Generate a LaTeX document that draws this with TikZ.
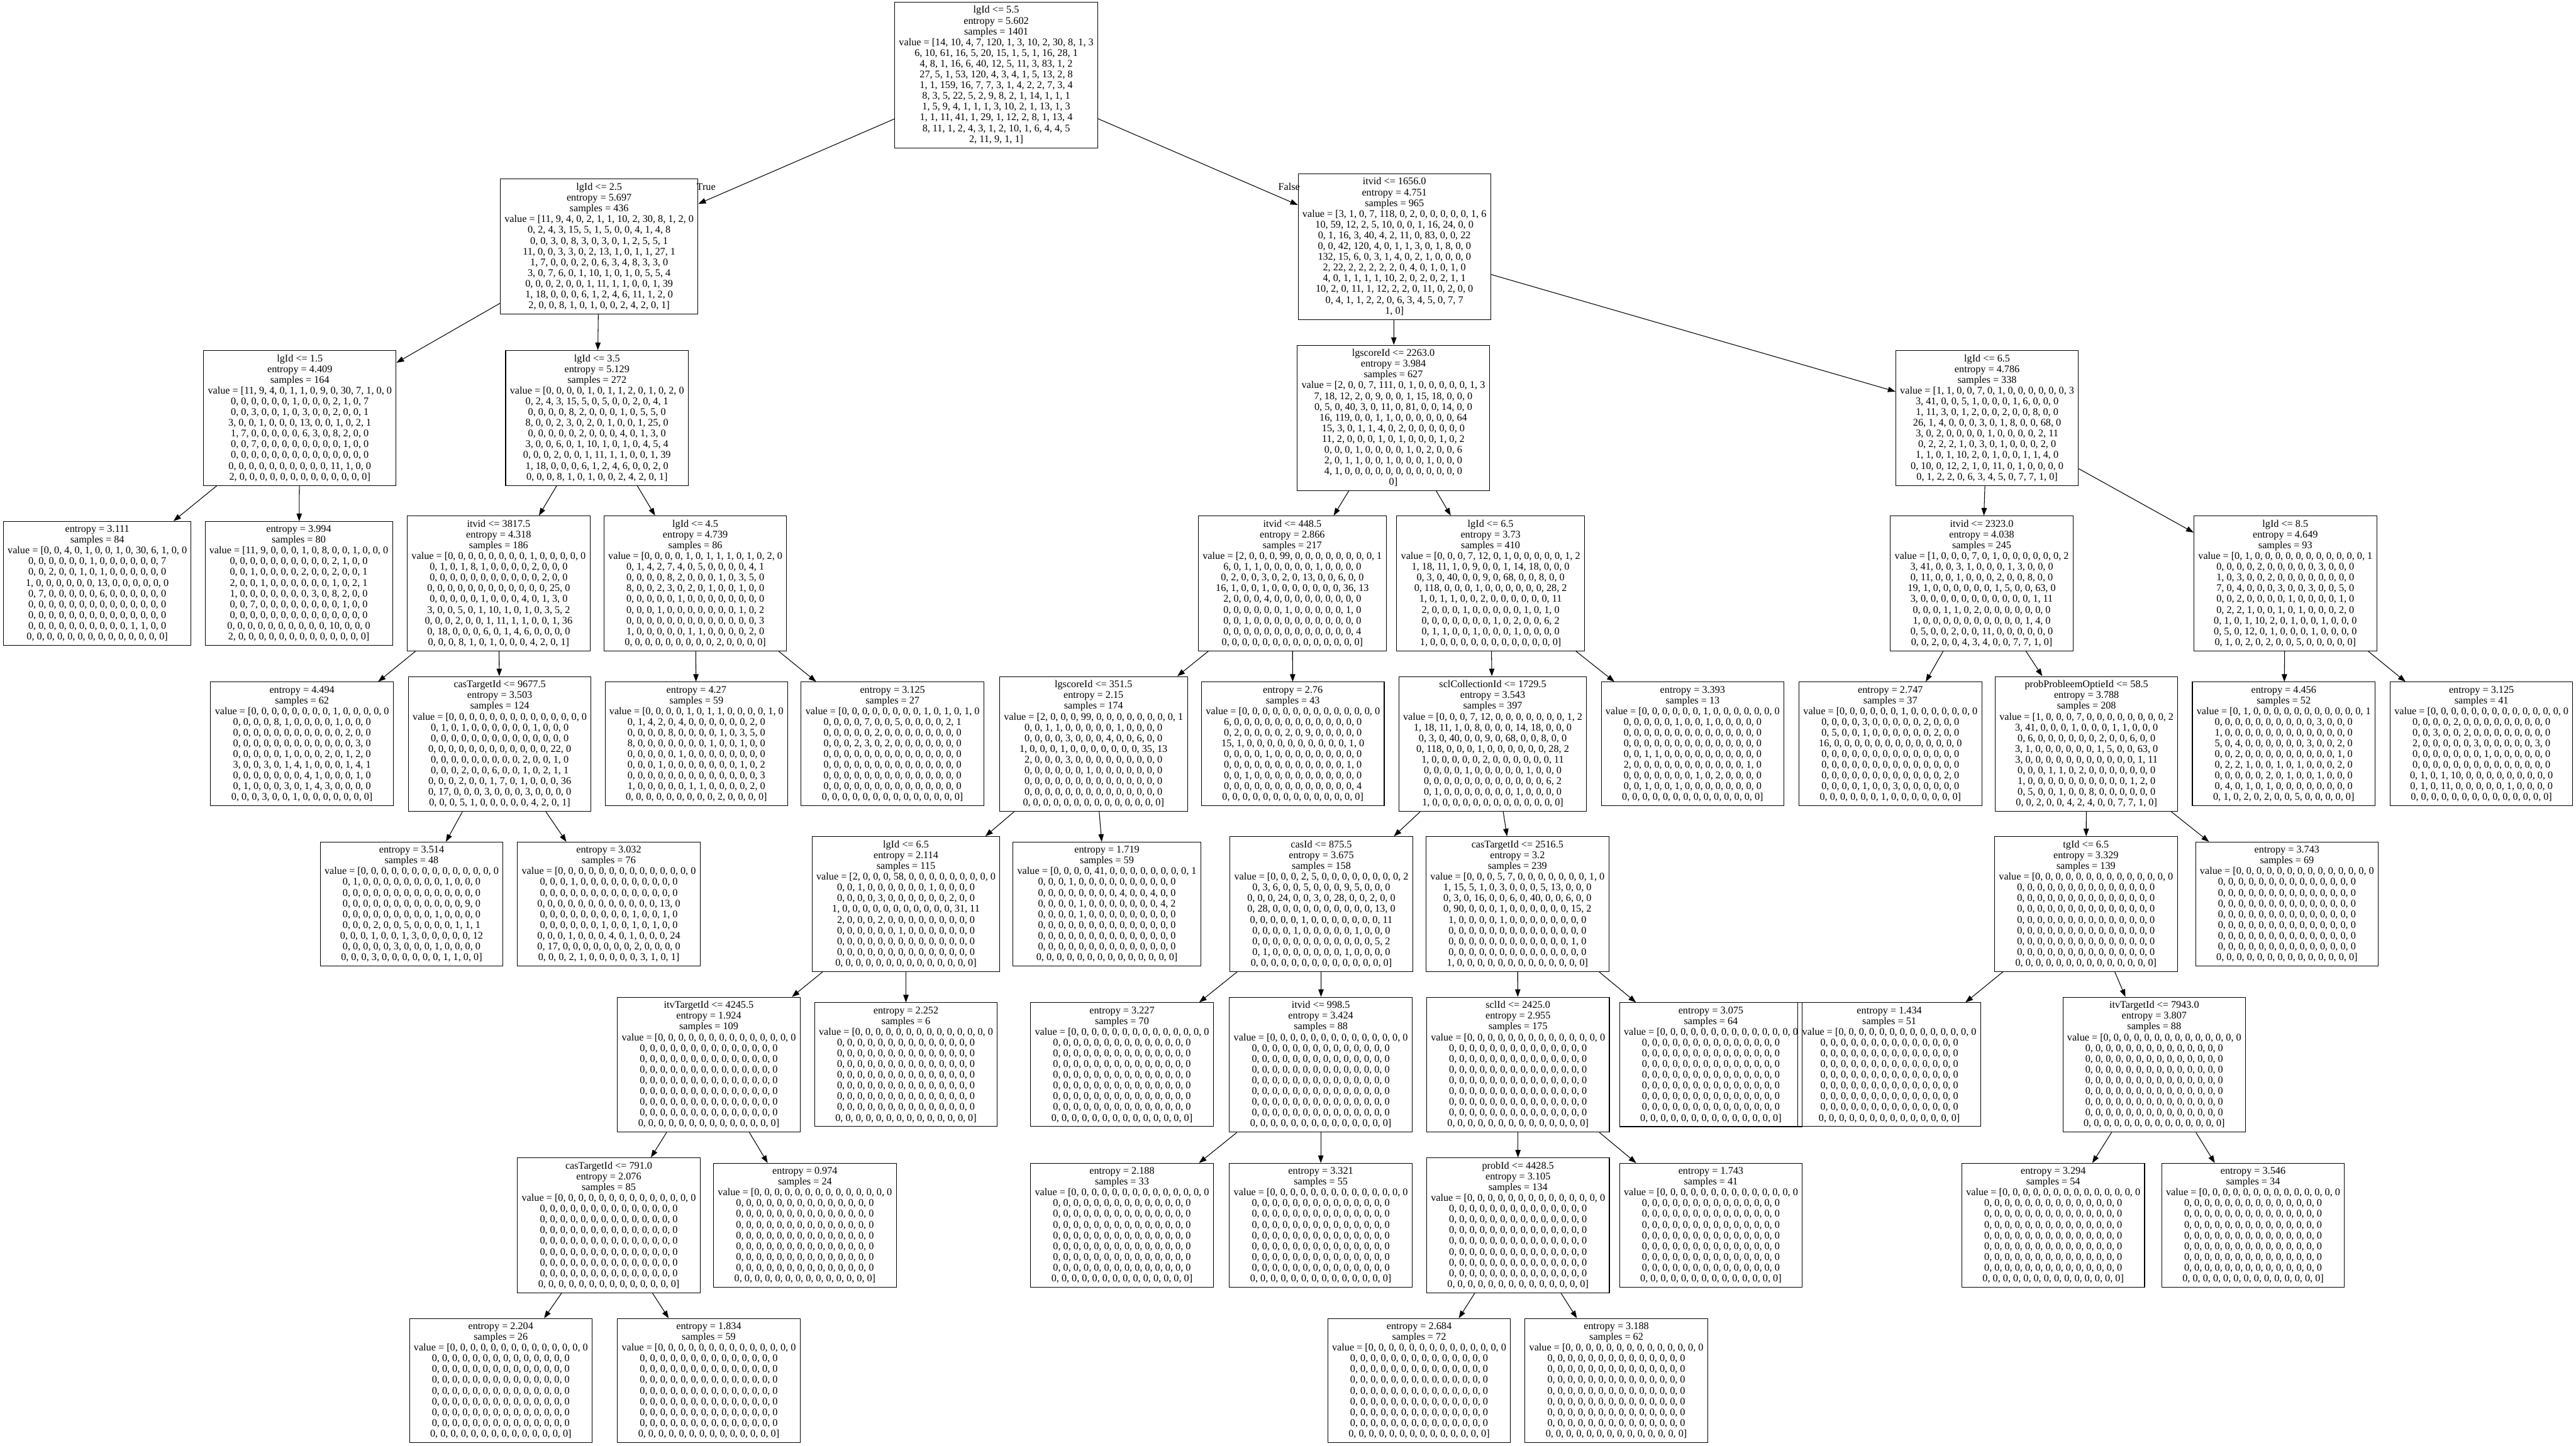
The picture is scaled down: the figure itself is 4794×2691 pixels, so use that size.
\documentclass[tikz,border=0pt]{standalone}
\usepackage{fontspec}
\setmainfont{Liberation Serif}
\usetikzlibrary{arrows.meta}

\newcommand{\zl}{0, 0, 0, 0, 0, 0, 0, 0, 0, 0, 0, 0, 0, 0}

\begin{document}
\begin{tikzpicture}[x=0.01cm, y=-0.01cm,
    split/.style={draw, line width=0.35pt, align=center, inner xsep=0.08cm, inner ysep=0.075cm,
      font=\fontsize{5.4}{5.69}\selectfont},
    edge/.style={line width=0.35pt, -{Triangle[length=0.14cm, width=0.1cm]}},
    lab/.style={font=\fontsize{5.4}{5.69}\selectfont}]
\useasboundingbox (0,0) rectangle (4794,2691);

% rank 1
\node[split] (n0) at (1854,139.5) {lgId <= 5.5\\entropy = 5.602\\samples = 1401\\value = [14, 10, 4, 7, 120, 1, 3, 10, 2, 30, 8, 1, 3\\6, 10, 61, 16, 5, 20, 15, 1, 5, 1, 16, 28, 1\\4, 8, 1, 16, 6, 40, 12, 5, 11, 3, 83, 1, 2\\27, 5, 1, 53, 120, 4, 3, 4, 1, 5, 13, 2, 8\\1, 1, 159, 16, 7, 7, 3, 1, 4, 2, 2, 7, 3, 4\\8, 3, 5, 22, 5, 2, 9, 8, 2, 1, 14, 1, 1, 1\\1, 5, 9, 4, 1, 1, 1, 3, 10, 2, 1, 13, 1, 3\\1, 1, 11, 41, 1, 29, 1, 12, 2, 8, 1, 13, 4\\8, 11, 1, 2, 4, 3, 1, 2, 10, 1, 6, 4, 4, 5\\2, 11, 9, 1, 1]};

% rank 2
\node[split] (n1) at (1115,459) {lgId <= 2.5\\entropy = 5.697\\samples = 436\\value = [11, 9, 4, 0, 2, 1, 1, 10, 2, 30, 8, 1, 2, 0\\0, 2, 4, 3, 15, 5, 1, 5, 0, 0, 4, 1, 4, 8\\0, 0, 3, 0, 8, 3, 0, 3, 0, 1, 2, 5, 5, 1\\11, 0, 0, 3, 3, 0, 2, 13, 1, 0, 1, 1, 27, 1\\1, 7, 0, 0, 0, 2, 0, 6, 3, 4, 8, 3, 3, 0\\3, 0, 7, 6, 0, 1, 10, 1, 0, 1, 0, 5, 5, 4\\0, 0, 0, 2, 0, 0, 1, 11, 1, 1, 0, 0, 1, 39\\1, 18, 0, 0, 0, 6, 1, 2, 4, 6, 11, 1, 2, 0\\2, 0, 0, 8, 1, 0, 1, 0, 0, 2, 4, 2, 0, 1]};
\node[split] (n14) at (2595,459) {itvid <= 1656.0\\entropy = 4.751\\samples = 965\\value = [3, 1, 0, 7, 118, 0, 2, 0, 0, 0, 0, 0, 1, 6\\10, 59, 12, 2, 5, 10, 0, 0, 1, 16, 24, 0, 0\\0, 1, 16, 3, 40, 4, 2, 11, 0, 83, 0, 0, 22\\0, 0, 42, 120, 4, 0, 1, 1, 3, 0, 1, 8, 0, 0\\132, 15, 6, 0, 3, 1, 4, 0, 2, 1, 0, 0, 0, 0\\2, 22, 2, 2, 2, 2, 2, 0, 4, 0, 1, 0, 1, 0\\4, 0, 1, 1, 1, 1, 10, 2, 0, 2, 0, 2, 1, 1\\10, 2, 0, 11, 1, 12, 2, 2, 0, 11, 0, 2, 0, 0\\0, 4, 1, 1, 2, 2, 0, 6, 3, 4, 5, 0, 7, 7\\1, 0]};

% rank 3
\node[split] (n2) at (558,778) {lgId <= 1.5\\entropy = 4.409\\samples = 164\\value = [11, 9, 4, 0, 1, 1, 0, 9, 0, 30, 7, 1, 0, 0\\0, 0, 0, 0, 0, 0, 1, 0, 0, 0, 2, 1, 0, 7\\0, 0, 3, 0, 0, 1, 0, 3, 0, 0, 2, 0, 0, 1\\3, 0, 0, 1, 0, 0, 0, 13, 0, 0, 1, 0, 2, 1\\1, 7, 0, 0, 0, 0, 0, 6, 3, 0, 8, 2, 0, 0\\0, 0, 7, 0, 0, 0, 0, 0, 0, 0, 0, 1, 0, 0\\0, 0, 0, 0, 0, 0, 0, 0, 0, 0, 0, 0, 0, 0\\0, 0, 0, 0, 0, 0, 0, 0, 0, 0, 11, 1, 0, 0\\2, 0, 0, 0, 0, 0, 0, 0, 0, 0, 0, 0, 0, 0]};
\node[split] (n5) at (1111,778) {lgId <= 3.5\\entropy = 5.129\\samples = 272\\value = [0, 0, 0, 0, 1, 0, 1, 1, 2, 0, 1, 0, 2, 0\\0, 2, 4, 3, 15, 5, 0, 5, 0, 0, 2, 0, 4, 1\\0, 0, 0, 0, 8, 2, 0, 0, 0, 1, 0, 5, 5, 0\\8, 0, 0, 2, 3, 0, 2, 0, 1, 0, 0, 1, 25, 0\\0, 0, 0, 0, 0, 2, 0, 0, 0, 4, 0, 1, 3, 0\\3, 0, 0, 6, 0, 1, 10, 1, 0, 1, 0, 4, 5, 4\\0, 0, 0, 2, 0, 0, 1, 11, 1, 1, 0, 0, 1, 39\\1, 18, 0, 0, 0, 6, 1, 2, 4, 6, 0, 0, 2, 0\\0, 0, 0, 8, 1, 0, 1, 0, 0, 2, 4, 2, 0, 1]};
\node[split] (n15) at (2593,778) {lgscoreId <= 2263.0\\entropy = 3.984\\samples = 627\\value = [2, 0, 0, 7, 111, 0, 1, 0, 0, 0, 0, 0, 1, 3\\7, 18, 12, 2, 0, 9, 0, 0, 1, 15, 18, 0, 0, 0\\0, 5, 0, 40, 3, 0, 11, 0, 81, 0, 0, 14, 0, 0\\16, 119, 0, 0, 1, 1, 0, 0, 0, 0, 0, 0, 64\\15, 3, 0, 1, 1, 4, 0, 2, 0, 0, 0, 0, 0, 0\\11, 2, 0, 0, 0, 1, 0, 1, 0, 0, 0, 1, 0, 2\\0, 0, 0, 1, 0, 0, 0, 0, 1, 0, 2, 0, 0, 6\\2, 0, 1, 1, 0, 0, 1, 0, 0, 0, 1, 0, 0, 0\\4, 1, 0, 0, 0, 0, 0, 0, 0, 0, 0, 0, 0, 0\\0]};
\node[split] (n42) at (3698,778) {lgId <= 6.5\\entropy = 4.786\\samples = 338\\value = [1, 1, 0, 0, 7, 0, 1, 0, 0, 0, 0, 0, 0, 3\\3, 41, 0, 0, 5, 1, 0, 0, 0, 1, 6, 0, 0, 0\\1, 11, 3, 0, 1, 2, 0, 0, 2, 0, 0, 8, 0, 0\\26, 1, 4, 0, 0, 0, 3, 0, 1, 8, 0, 0, 68, 0\\3, 0, 2, 0, 0, 0, 0, 1, 0, 0, 0, 0, 2, 11\\0, 2, 2, 2, 1, 0, 3, 0, 1, 0, 0, 0, 2, 0\\1, 1, 0, 1, 10, 2, 0, 1, 0, 0, 1, 1, 4, 0\\0, 10, 0, 12, 2, 1, 0, 11, 0, 1, 0, 0, 0, 0\\0, 1, 2, 2, 0, 6, 3, 4, 5, 0, 7, 7, 1, 0]};

% rank 4
\node[split] (n3) at (181,1086) {entropy = 3.111\\samples = 84\\value = [0, 0, 4, 0, 1, 0, 0, 1, 0, 30, 6, 1, 0, 0\\0, 0, 0, 0, 0, 0, 1, 0, 0, 0, 0, 0, 0, 7\\0, 0, 2, 0, 0, 1, 0, 1, 0, 0, 0, 0, 0, 0\\1, 0, 0, 0, 0, 0, 0, 13, 0, 0, 0, 0, 0, 0\\0, 7, 0, 0, 0, 0, 0, 6, 0, 0, 0, 0, 0, 0\\\zl\\\zl\\0, 0, 0, 0, 0, 0, 0, 0, 0, 0, 1, 1, 0, 0\\\zl]};
\node[split] (n4) at (556,1086) {entropy = 3.994\\samples = 80\\value = [11, 9, 0, 0, 0, 1, 0, 8, 0, 0, 1, 0, 0, 0\\0, 0, 0, 0, 0, 0, 0, 0, 0, 0, 2, 1, 0, 0\\0, 0, 1, 0, 0, 0, 0, 2, 0, 0, 2, 0, 0, 1\\2, 0, 0, 1, 0, 0, 0, 0, 0, 0, 1, 0, 2, 1\\1, 0, 0, 0, 0, 0, 0, 0, 3, 0, 8, 2, 0, 0\\0, 0, 7, 0, 0, 0, 0, 0, 0, 0, 0, 1, 0, 0\\\zl\\0, 0, 0, 0, 0, 0, 0, 0, 0, 0, 10, 0, 0, 0\\2, 0, 0, 0, 0, 0, 0, 0, 0, 0, 0, 0, 0, 0]};
\node[split] (n6) at (928,1086) {itvid <= 3817.5\\entropy = 4.318\\samples = 186\\value = [0, 0, 0, 0, 0, 0, 0, 0, 1, 0, 0, 0, 0, 0\\0, 1, 0, 1, 8, 1, 0, 0, 0, 0, 2, 0, 0, 0\\0, 0, 0, 0, 0, 0, 0, 0, 0, 0, 0, 2, 0, 0\\0, 0, 0, 0, 0, 0, 0, 0, 0, 0, 0, 0, 25, 0\\0, 0, 0, 0, 0, 1, 0, 0, 0, 4, 0, 1, 3, 0\\3, 0, 0, 5, 0, 1, 10, 1, 0, 1, 0, 3, 5, 2\\0, 0, 0, 2, 0, 0, 1, 11, 1, 1, 0, 0, 1, 36\\0, 18, 0, 0, 0, 6, 0, 1, 4, 6, 0, 0, 0, 0\\0, 0, 0, 8, 1, 0, 1, 0, 0, 0, 4, 2, 0, 1]};
\node[split] (n11) at (1294,1086) {lgId <= 4.5\\entropy = 4.739\\samples = 86\\value = [0, 0, 0, 0, 1, 0, 1, 1, 1, 0, 1, 0, 2, 0\\0, 1, 4, 2, 7, 4, 0, 5, 0, 0, 0, 0, 4, 1\\0, 0, 0, 0, 8, 2, 0, 0, 0, 1, 0, 3, 5, 0\\8, 0, 0, 2, 3, 0, 2, 0, 1, 0, 0, 1, 0, 0\\0, 0, 0, 0, 0, 1, 0, 0, 0, 0, 0, 0, 0, 0\\0, 0, 0, 1, 0, 0, 0, 0, 0, 0, 0, 1, 0, 2\\0, 0, 0, 0, 0, 0, 0, 0, 0, 0, 0, 0, 0, 3\\1, 0, 0, 0, 0, 0, 1, 1, 0, 0, 0, 0, 2, 0\\0, 0, 0, 0, 0, 0, 0, 0, 0, 2, 0, 0, 0, 0]};
\node[split] (n16) at (2405,1086) {itvid <= 448.5\\entropy = 2.866\\samples = 217\\value = [2, 0, 0, 0, 99, 0, 0, 0, 0, 0, 0, 0, 0, 1\\6, 0, 1, 1, 0, 0, 0, 0, 0, 1, 0, 0, 0, 0\\0, 2, 0, 0, 3, 0, 2, 0, 13, 0, 0, 6, 0, 0\\16, 1, 0, 0, 1, 0, 0, 0, 0, 0, 0, 0, 36, 13\\2, 0, 0, 0, 4, 0, 0, 0, 0, 0, 0, 0, 0, 0\\0, 0, 0, 0, 0, 0, 1, 0, 0, 0, 0, 0, 1, 0\\0, 0, 1, 0, 0, 0, 0, 0, 0, 0, 0, 0, 0, 0\\0, 0, 0, 0, 0, 0, 0, 0, 0, 0, 0, 0, 0, 4\\\zl]};
\node[split] (n27) at (2774,1086) {lgId <= 6.5\\entropy = 3.73\\samples = 410\\value = [0, 0, 0, 7, 12, 0, 1, 0, 0, 0, 0, 0, 1, 2\\1, 18, 11, 1, 0, 9, 0, 0, 1, 14, 18, 0, 0, 0\\0, 3, 0, 40, 0, 0, 9, 0, 68, 0, 0, 8, 0, 0\\0, 118, 0, 0, 0, 1, 0, 0, 0, 0, 0, 0, 28, 2\\1, 0, 1, 1, 0, 0, 2, 0, 0, 0, 0, 0, 0, 11\\2, 0, 0, 0, 1, 0, 0, 0, 0, 0, 1, 0, 1, 0\\0, 0, 0, 0, 0, 0, 0, 1, 0, 2, 0, 0, 6, 2\\0, 1, 1, 0, 0, 1, 0, 0, 0, 1, 0, 0, 0, 0\\1, 0, 0, 0, 0, 0, 0, 0, 0, 0, 0, 0, 0, 0]};
\node[split] (n43) at (3688,1086) {itvid <= 2323.0\\entropy = 4.038\\samples = 245\\value = [1, 0, 0, 0, 7, 0, 1, 0, 0, 0, 0, 0, 0, 2\\3, 41, 0, 0, 3, 1, 0, 0, 0, 1, 3, 0, 0, 0\\0, 11, 0, 0, 1, 0, 0, 0, 2, 0, 0, 8, 0, 0\\19, 1, 0, 0, 0, 0, 0, 0, 1, 5, 0, 0, 63, 0\\3, 0, 0, 0, 0, 0, 0, 0, 0, 0, 0, 0, 1, 11\\0, 0, 0, 1, 1, 0, 2, 0, 0, 0, 0, 0, 0, 0\\1, 0, 0, 0, 0, 0, 0, 0, 0, 0, 0, 1, 4, 0\\0, 5, 0, 0, 2, 0, 0, 11, 0, 0, 0, 0, 0, 0\\0, 0, 2, 0, 0, 4, 3, 4, 0, 0, 7, 7, 1, 0]};
\node[split] (n52) at (4253,1086) {lgId <= 8.5\\entropy = 4.649\\samples = 93\\value = [0, 1, 0, 0, 0, 0, 0, 0, 0, 0, 0, 0, 0, 1\\0, 0, 0, 0, 2, 0, 0, 0, 0, 0, 3, 0, 0, 0\\1, 0, 3, 0, 0, 2, 0, 0, 0, 0, 0, 0, 0, 0\\7, 0, 4, 0, 0, 0, 3, 0, 0, 3, 0, 0, 5, 0\\0, 0, 2, 0, 0, 0, 0, 1, 0, 0, 0, 0, 1, 0\\0, 2, 2, 1, 0, 0, 1, 0, 1, 0, 0, 0, 2, 0\\0, 1, 0, 1, 10, 2, 0, 1, 0, 0, 1, 0, 0, 0\\0, 5, 0, 12, 0, 1, 0, 0, 0, 1, 0, 0, 0, 0\\0, 1, 0, 2, 0, 2, 0, 0, 5, 0, 0, 0, 0, 0]};

% rank 5
\node[split] (n7) at (562,1385) {entropy = 4.494\\samples = 62\\value = [0, 0, 0, 0, 0, 0, 0, 0, 1, 0, 0, 0, 0, 0\\0, 0, 0, 0, 8, 1, 0, 0, 0, 0, 1, 0, 0, 0\\0, 0, 0, 0, 0, 0, 0, 0, 0, 0, 0, 2, 0, 0\\0, 0, 0, 0, 0, 0, 0, 0, 0, 0, 0, 0, 3, 0\\0, 0, 0, 0, 0, 1, 0, 0, 0, 2, 0, 1, 2, 0\\3, 0, 0, 3, 0, 1, 4, 1, 0, 0, 0, 1, 4, 1\\0, 0, 0, 0, 0, 0, 0, 4, 1, 0, 0, 0, 1, 0\\0, 1, 0, 0, 0, 3, 0, 1, 4, 3, 0, 0, 0, 0\\0, 0, 0, 3, 0, 0, 1, 0, 0, 0, 0, 0, 0, 0]};
\node[split] (n8) at (930,1385) {casTargetId <= 9677.5\\entropy = 3.503\\samples = 124\\value = [0, 0, 0, 0, 0, 0, 0, 0, 0, 0, 0, 0, 0, 0\\0, 1, 0, 1, 0, 0, 0, 0, 0, 0, 1, 0, 0, 0\\\zl\\0, 0, 0, 0, 0, 0, 0, 0, 0, 0, 0, 0, 22, 0\\0, 0, 0, 0, 0, 0, 0, 0, 0, 2, 0, 0, 1, 0\\0, 0, 0, 2, 0, 0, 6, 0, 0, 1, 0, 2, 1, 1\\0, 0, 0, 2, 0, 0, 1, 7, 0, 1, 0, 0, 0, 36\\0, 17, 0, 0, 0, 3, 0, 0, 0, 3, 0, 0, 0, 0\\0, 0, 0, 5, 1, 0, 0, 0, 0, 0, 4, 2, 0, 1]};
\node[split] (n12) at (1296,1385) {entropy = 4.27\\samples = 59\\value = [0, 0, 0, 0, 1, 0, 1, 1, 0, 0, 0, 0, 1, 0\\0, 1, 4, 2, 0, 4, 0, 0, 0, 0, 0, 0, 2, 0\\0, 0, 0, 0, 8, 0, 0, 0, 0, 1, 0, 3, 5, 0\\8, 0, 0, 0, 0, 0, 0, 0, 1, 0, 0, 1, 0, 0\\0, 0, 0, 0, 0, 1, 0, 0, 0, 0, 0, 0, 0, 0\\0, 0, 0, 1, 0, 0, 0, 0, 0, 0, 0, 1, 0, 2\\0, 0, 0, 0, 0, 0, 0, 0, 0, 0, 0, 0, 0, 3\\1, 0, 0, 0, 0, 0, 1, 1, 0, 0, 0, 0, 2, 0\\0, 0, 0, 0, 0, 0, 0, 0, 0, 2, 0, 0, 0, 0]};
\node[split] (n13) at (1661,1385) {entropy = 3.125\\samples = 27\\value = [0, 0, 0, 0, 0, 0, 0, 0, 1, 0, 1, 0, 1, 0\\0, 0, 0, 0, 7, 0, 0, 5, 0, 0, 0, 0, 2, 1\\0, 0, 0, 0, 0, 2, 0, 0, 0, 0, 0, 0, 0, 0\\0, 0, 0, 2, 3, 0, 2, 0, 0, 0, 0, 0, 0, 0\\\zl\\\zl\\\zl\\\zl\\\zl]};
\node[split] (n17) at (2035,1385) {lgscoreId <= 351.5\\entropy = 2.15\\samples = 174\\value = [2, 0, 0, 0, 99, 0, 0, 0, 0, 0, 0, 0, 0, 1\\0, 0, 1, 1, 0, 0, 0, 0, 0, 1, 0, 0, 0, 0\\0, 0, 0, 0, 3, 0, 0, 0, 4, 0, 0, 6, 0, 0\\1, 0, 0, 0, 1, 0, 0, 0, 0, 0, 0, 0, 35, 13\\2, 0, 0, 0, 3, 0, 0, 0, 0, 0, 0, 0, 0, 0\\0, 0, 0, 0, 0, 0, 1, 0, 0, 0, 0, 0, 0, 0\\\zl\\\zl\\\zl]};
\node[split] (n26) at (2406,1385) {entropy = 2.76\\samples = 43\\value = [0, 0, 0, 0, 0, 0, 0, 0, 0, 0, 0, 0, 0, 0\\6, 0, 0, 0, 0, 0, 0, 0, 0, 0, 0, 0, 0, 0\\0, 2, 0, 0, 0, 0, 2, 0, 9, 0, 0, 0, 0, 0\\15, 1, 0, 0, 0, 0, 0, 0, 0, 0, 0, 0, 1, 0\\0, 0, 0, 0, 1, 0, 0, 0, 0, 0, 0, 0, 0, 0\\0, 0, 0, 0, 0, 0, 0, 0, 0, 0, 0, 0, 1, 0\\0, 0, 1, 0, 0, 0, 0, 0, 0, 0, 0, 0, 0, 0\\0, 0, 0, 0, 0, 0, 0, 0, 0, 0, 0, 0, 0, 4\\\zl]};
\node[split] (n28) at (2778,1385) {sclCollectionId <= 1729.5\\entropy = 3.543\\samples = 397\\value = [0, 0, 0, 7, 12, 0, 0, 0, 0, 0, 0, 0, 1, 2\\1, 18, 11, 1, 0, 8, 0, 0, 0, 14, 18, 0, 0, 0\\0, 3, 0, 40, 0, 0, 9, 0, 68, 0, 0, 8, 0, 0\\0, 118, 0, 0, 0, 1, 0, 0, 0, 0, 0, 0, 28, 2\\1, 0, 0, 0, 0, 0, 2, 0, 0, 0, 0, 0, 0, 11\\0, 0, 0, 0, 1, 0, 0, 0, 0, 0, 1, 0, 0, 0\\0, 0, 0, 0, 0, 0, 0, 0, 0, 0, 0, 0, 6, 2\\0, 1, 0, 0, 0, 0, 0, 0, 0, 1, 0, 0, 0, 0\\1, 0, 0, 0, 0, 0, 0, 0, 0, 0, 0, 0, 0, 0]};
\node[split] (n41) at (3150,1385) {entropy = 3.393\\samples = 13\\value = [0, 0, 0, 0, 0, 0, 1, 0, 0, 0, 0, 0, 0, 0\\0, 0, 0, 0, 0, 1, 0, 0, 1, 0, 0, 0, 0, 0\\\zl\\\zl\\0, 0, 1, 1, 0, 0, 0, 0, 0, 0, 0, 0, 0, 0\\2, 0, 0, 0, 0, 0, 0, 0, 0, 0, 0, 0, 1, 0\\0, 0, 0, 0, 0, 0, 0, 1, 0, 2, 0, 0, 0, 0\\0, 0, 1, 0, 0, 1, 0, 0, 0, 0, 0, 0, 0, 0\\\zl]};
\node[split] (n44) at (3518,1385) {entropy = 2.747\\samples = 37\\value = [0, 0, 0, 0, 0, 0, 1, 0, 0, 0, 0, 0, 0, 0\\0, 0, 0, 0, 3, 0, 0, 0, 0, 0, 2, 0, 0, 0\\0, 5, 0, 0, 1, 0, 0, 0, 0, 0, 0, 2, 0, 0\\16, 0, 0, 0, 0, 0, 0, 0, 0, 0, 0, 0, 0, 0\\\zl\\\zl\\0, 0, 0, 0, 0, 0, 0, 0, 0, 0, 0, 0, 2, 0\\0, 0, 0, 0, 1, 0, 0, 3, 0, 0, 0, 0, 0, 0\\0, 0, 0, 0, 0, 0, 1, 0, 0, 0, 0, 0, 0, 0]};
\node[split] (n45) at (3883,1385) {probProbleemOptieId <= 58.5\\entropy = 3.788\\samples = 208\\value = [1, 0, 0, 0, 7, 0, 0, 0, 0, 0, 0, 0, 0, 2\\3, 41, 0, 0, 0, 1, 0, 0, 0, 1, 1, 0, 0, 0\\0, 6, 0, 0, 0, 0, 0, 0, 2, 0, 0, 6, 0, 0\\3, 1, 0, 0, 0, 0, 0, 0, 1, 5, 0, 0, 63, 0\\3, 0, 0, 0, 0, 0, 0, 0, 0, 0, 0, 0, 1, 11\\0, 0, 0, 1, 1, 0, 2, 0, 0, 0, 0, 0, 0, 0\\1, 0, 0, 0, 0, 0, 0, 0, 0, 0, 0, 1, 2, 0\\0, 5, 0, 0, 1, 0, 0, 8, 0, 0, 0, 0, 0, 0\\0, 0, 2, 0, 0, 4, 2, 4, 0, 0, 7, 7, 1, 0]};
\node[split] (n53) at (4250,1385) {entropy = 4.456\\samples = 52\\value = [0, 1, 0, 0, 0, 0, 0, 0, 0, 0, 0, 0, 0, 1\\0, 0, 0, 0, 0, 0, 0, 0, 0, 0, 3, 0, 0, 0\\1, 0, 0, 0, 0, 0, 0, 0, 0, 0, 0, 0, 0, 0\\5, 0, 4, 0, 0, 0, 0, 0, 0, 3, 0, 0, 2, 0\\0, 0, 2, 0, 0, 0, 0, 0, 0, 0, 0, 0, 1, 0\\0, 2, 2, 1, 0, 0, 1, 0, 1, 0, 0, 0, 2, 0\\0, 0, 0, 0, 0, 2, 0, 1, 0, 0, 1, 0, 0, 0\\0, 4, 0, 1, 0, 1, 0, 0, 0, 0, 0, 0, 0, 0\\0, 1, 0, 2, 0, 2, 0, 0, 5, 0, 0, 0, 0, 0]};
\node[split] (n54) at (4618,1385) {entropy = 3.125\\samples = 41\\value = [0, 0, 0, 0, 0, 0, 0, 0, 0, 0, 0, 0, 0, 0\\0, 0, 0, 0, 2, 0, 0, 0, 0, 0, 0, 0, 0, 0\\0, 0, 3, 0, 0, 2, 0, 0, 0, 0, 0, 0, 0, 0\\2, 0, 0, 0, 0, 0, 3, 0, 0, 0, 0, 0, 3, 0\\0, 0, 0, 0, 0, 0, 0, 1, 0, 0, 0, 0, 0, 0\\\zl\\0, 1, 0, 1, 10, 0, 0, 0, 0, 0, 0, 0, 0, 0\\0, 1, 0, 11, 0, 0, 0, 0, 0, 1, 0, 0, 0, 0\\\zl]};

% rank 6
\node[split] (n9) at (766,1683) {entropy = 3.514\\samples = 48\\value = [0, 0, 0, 0, 0, 0, 0, 0, 0, 0, 0, 0, 0, 0\\0, 1, 0, 0, 0, 0, 0, 0, 0, 0, 1, 0, 0, 0\\\zl\\0, 0, 0, 0, 0, 0, 0, 0, 0, 0, 0, 0, 9, 0\\0, 0, 0, 0, 0, 0, 0, 0, 0, 1, 0, 0, 0, 0\\0, 0, 0, 2, 0, 0, 5, 0, 0, 0, 0, 1, 1, 1\\0, 0, 0, 1, 0, 0, 1, 3, 0, 0, 0, 0, 0, 12\\0, 0, 0, 0, 0, 3, 0, 0, 0, 1, 0, 0, 0, 0\\0, 0, 0, 3, 0, 0, 0, 0, 0, 0, 1, 1, 0, 0]};
\node[split] (n10) at (1133,1683) {entropy = 3.032\\samples = 76\\value = [0, 0, 0, 0, 0, 0, 0, 0, 0, 0, 0, 0, 0, 0\\0, 0, 0, 1, 0, 0, 0, 0, 0, 0, 0, 0, 0, 0\\\zl\\0, 0, 0, 0, 0, 0, 0, 0, 0, 0, 0, 0, 13, 0\\0, 0, 0, 0, 0, 0, 0, 0, 0, 1, 0, 0, 1, 0\\0, 0, 0, 0, 0, 0, 1, 0, 0, 1, 0, 1, 0, 0\\0, 0, 0, 1, 0, 0, 0, 4, 0, 1, 0, 0, 0, 24\\0, 17, 0, 0, 0, 0, 0, 0, 0, 2, 0, 0, 0, 0\\0, 0, 0, 2, 1, 0, 0, 0, 0, 0, 3, 1, 0, 1]};
\node[split] (n18) at (1686,1683) {lgId <= 6.5\\entropy = 2.114\\samples = 115\\value = [2, 0, 0, 0, 58, 0, 0, 0, 0, 0, 0, 0, 0, 0\\0, 0, 1, 0, 0, 0, 0, 0, 0, 1, 0, 0, 0, 0\\0, 0, 0, 0, 3, 0, 0, 0, 0, 0, 0, 2, 0, 0\\1, 0, 0, 0, 0, 0, 0, 0, 0, 0, 0, 0, 31, 11\\2, 0, 0, 0, 2, 0, 0, 0, 0, 0, 0, 0, 0, 0\\0, 0, 0, 0, 0, 0, 1, 0, 0, 0, 0, 0, 0, 0\\\zl\\\zl\\\zl]};
\node[split] (n25) at (2060,1683) {entropy = 1.719\\samples = 59\\value = [0, 0, 0, 0, 41, 0, 0, 0, 0, 0, 0, 0, 0, 1\\0, 0, 0, 1, 0, 0, 0, 0, 0, 0, 0, 0, 0, 0\\0, 0, 0, 0, 0, 0, 0, 0, 4, 0, 0, 4, 0, 0\\0, 0, 0, 0, 1, 0, 0, 0, 0, 0, 0, 0, 4, 2\\0, 0, 0, 0, 1, 0, 0, 0, 0, 0, 0, 0, 0, 0\\\zl\\\zl\\\zl\\\zl]};
\node[split] (n29) at (2459,1683) {casId <= 875.5\\entropy = 3.675\\samples = 158\\value = [0, 0, 0, 2, 5, 0, 0, 0, 0, 0, 0, 0, 0, 2\\0, 3, 6, 0, 0, 5, 0, 0, 0, 9, 5, 0, 0, 0\\0, 0, 0, 24, 0, 0, 3, 0, 28, 0, 0, 2, 0, 0\\0, 28, 0, 0, 0, 0, 0, 0, 0, 0, 0, 0, 13, 0\\0, 0, 0, 0, 0, 1, 0, 0, 0, 0, 0, 0, 0, 11\\0, 0, 0, 0, 1, 0, 0, 0, 0, 0, 1, 0, 0, 0\\0, 0, 0, 0, 0, 0, 0, 0, 0, 0, 0, 0, 5, 2\\0, 1, 0, 0, 0, 0, 0, 0, 0, 1, 0, 0, 0, 0\\\zl]};
\node[split] (n34) at (2824,1683) {casTargetId <= 2516.5\\entropy = 3.2\\samples = 239\\value = [0, 0, 0, 5, 7, 0, 0, 0, 0, 0, 0, 0, 1, 0\\1, 15, 5, 1, 0, 3, 0, 0, 0, 5, 13, 0, 0, 0\\0, 3, 0, 16, 0, 0, 6, 0, 40, 0, 0, 6, 0, 0\\0, 90, 0, 0, 0, 1, 0, 0, 0, 0, 0, 0, 15, 2\\1, 0, 0, 0, 0, 1, 0, 0, 0, 0, 0, 0, 0, 0\\\zl\\0, 0, 0, 0, 0, 0, 0, 0, 0, 0, 0, 0, 1, 0\\\zl\\1, 0, 0, 0, 0, 0, 0, 0, 0, 0, 0, 0, 0, 0]};
\node[split] (n46) at (3882,1683) {tgId <= 6.5\\entropy = 3.329\\samples = 139\\value = [\zl\\\zl\\\zl\\\zl\\\zl\\\zl\\\zl\\\zl\\\zl]};
\node[split] (n51) at (4256,1683) {entropy = 3.743\\samples = 69\\value = [\zl\\\zl\\\zl\\\zl\\\zl\\\zl\\\zl\\\zl\\\zl]};

% rank 7
\node[split] (n19) at (1319,1982) {itvTargetId <= 4245.5\\entropy = 1.924\\samples = 109\\value = [\zl\\\zl\\\zl\\\zl\\\zl\\\zl\\\zl\\\zl\\\zl]};
\node[split] (n24) at (1686,1982) {entropy = 2.252\\samples = 6\\value = [\zl\\\zl\\\zl\\\zl\\\zl\\\zl\\\zl\\\zl\\\zl]};
\node[split] (n30) at (2088,1982) {entropy = 3.227\\samples = 70\\value = [\zl\\\zl\\\zl\\\zl\\\zl\\\zl\\\zl\\\zl\\\zl]};
\node[split] (n31) at (2458,1982) {itvid <= 998.5\\entropy = 3.424\\samples = 88\\value = [\zl\\\zl\\\zl\\\zl\\\zl\\\zl\\\zl\\\zl\\\zl]};
\node[split] (n35) at (2825,1982) {sclId <= 2425.0\\entropy = 2.955\\samples = 175\\value = [\zl\\\zl\\\zl\\\zl\\\zl\\\zl\\\zl\\\zl\\\zl]};
\node[split] (n40) at (3184,1982) {entropy = 3.075\\samples = 64\\value = [\zl\\\zl\\\zl\\\zl\\\zl\\\zl\\\zl\\\zl\\\zl]};
\node[split] (n47) at (3516,1982) {entropy = 1.434\\samples = 51\\value = [\zl\\\zl\\\zl\\\zl\\\zl\\\zl\\\zl\\\zl\\\zl]};
\node[split] (n48) at (4009,1982) {itvTargetId <= 7943.0\\entropy = 3.807\\samples = 88\\value = [\zl\\\zl\\\zl\\\zl\\\zl\\\zl\\\zl\\\zl\\\zl]};

% rank 8
\node[split] (n20) at (1133,2281) {casTargetId <= 791.0\\entropy = 2.076\\samples = 85\\value = [\zl\\\zl\\\zl\\\zl\\\zl\\\zl\\\zl\\\zl\\\zl]};
\node[split] (n23) at (1498,2281) {entropy = 0.974\\samples = 24\\value = [\zl\\\zl\\\zl\\\zl\\\zl\\\zl\\\zl\\\zl\\\zl]};
\node[split] (n32) at (2088,2281) {entropy = 2.188\\samples = 33\\value = [\zl\\\zl\\\zl\\\zl\\\zl\\\zl\\\zl\\\zl\\\zl]};
\node[split] (n33) at (2458,2281) {entropy = 3.321\\samples = 55\\value = [\zl\\\zl\\\zl\\\zl\\\zl\\\zl\\\zl\\\zl\\\zl]};
\node[split] (n36) at (2825,2281) {probId <= 4428.5\\entropy = 3.105\\samples = 134\\value = [\zl\\\zl\\\zl\\\zl\\\zl\\\zl\\\zl\\\zl\\\zl]};
\node[split] (n39) at (3184,2281) {entropy = 1.743\\samples = 41\\value = [\zl\\\zl\\\zl\\\zl\\\zl\\\zl\\\zl\\\zl\\\zl]};
\node[split] (n49) at (3821,2281) {entropy = 3.294\\samples = 54\\value = [\zl\\\zl\\\zl\\\zl\\\zl\\\zl\\\zl\\\zl\\\zl]};
\node[split] (n50) at (4193,2281) {entropy = 3.546\\samples = 34\\value = [\zl\\\zl\\\zl\\\zl\\\zl\\\zl\\\zl\\\zl\\\zl]};

% rank 9
\node[split] (n21) at (932,2570) {entropy = 2.204\\samples = 26\\value = [\zl\\\zl\\\zl\\\zl\\\zl\\\zl\\\zl\\\zl\\\zl]};
\node[split] (n22) at (1319,2570) {entropy = 1.834\\samples = 59\\value = [\zl\\\zl\\\zl\\\zl\\\zl\\\zl\\\zl\\\zl\\\zl]};
\node[split] (n37) at (2641,2570) {entropy = 2.684\\samples = 72\\value = [\zl\\\zl\\\zl\\\zl\\\zl\\\zl\\\zl\\\zl\\\zl]};
\node[split] (n38) at (3008,2570) {entropy = 3.188\\samples = 62\\value = [\zl\\\zl\\\zl\\\zl\\\zl\\\zl\\\zl\\\zl\\\zl]};

% edges
\foreach \a/\b in {n0/n1, n0/n14, n1/n2, n1/n5, n2/n3, n2/n4, n5/n6, n5/n11, n6/n7, n6/n8,
  n8/n9, n8/n10, n11/n12, n11/n13, n14/n15, n14/n42, n15/n16, n15/n27, n16/n17, n16/n26,
  n17/n18, n17/n25, n18/n19, n18/n24, n19/n20, n19/n23, n20/n21, n20/n22, n27/n28, n27/n41,
  n28/n29, n28/n34, n29/n30, n29/n31, n31/n32, n31/n33, n34/n35, n34/n40, n35/n36, n35/n39,
  n36/n37, n36/n38, n42/n43, n42/n52, n43/n44, n43/n45, n45/n46, n45/n51, n46/n47, n46/n48,
  n48/n49, n48/n50, n52/n53, n52/n54}
  \draw[edge] (\a) -- (\b);

\node[lab] (t) at (1314,348) {True};
\node[lab] (f) at (2399,348) {False};
\end{tikzpicture}
\end{document}
